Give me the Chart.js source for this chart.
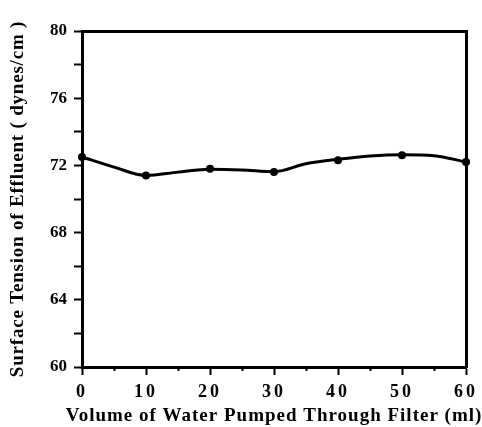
<!DOCTYPE html>
<html>
<head>
<meta charset="utf-8">
<script src="https://cdn.jsdelivr.net/npm/chart.js@4"></script>
<style>
    html, body { margin: 0; padding: 0; background: #fff; }
    #wrap { width: 482px; height: 427px; }
</style>
</head>
<body>
<div id="wrap"><canvas id="tensionChart"></canvas></div>
<script>
// measured points
const volumes = [0, 10, 20, 30, 40, 50, 60];
const tension = [72.5, 71.4, 71.8, 71.6, 72.3, 72.6, 72.2];
// hand-drawn trend line, read every 5 ml
const curveVolumes = [0, 5, 10, 15, 20, 25, 30, 35, 40, 45, 50, 55, 60];
const curveTension = [72.5, 71.9, 71.4, 71.6, 71.77, 71.73, 71.63, 72.1, 72.36, 72.56, 72.64, 72.58, 72.2];
const xTicks = [0, 10, 20, 30, 40, 50, 60];
const yTicks = [60, 64, 68, 72, 76, 80];

const serif = 'Liberation Serif';

// Chart.js has no letter spacing option, so wrap the text drawing of each scale.
// The x title is also let out past the axis ends, since Chart.js squeezes it to the axis width.
const spacing = {
    id: 'spacing',
    afterLayout(chart) {
        const gaps = { x: { drawTitle: '1px', drawLabels: '3px' }, y: { drawTitle: '0.8px', drawLabels: '0px' } };
        for (const id of ['x', 'y']) {
            const scale = chart.scales[id];
            if (scale._spaced) continue;
            scale._spaced = true;
            for (const name of ['drawTitle', 'drawLabels']) {
                const draw = scale[name];
                scale[name] = function (...args) {
                    const prev = this.ctx.letterSpacing;
                    const { left, right } = this;
                    this.ctx.letterSpacing = gaps[id][name];
                    if (id === 'x' && name === 'drawTitle') {
                        this.left -= 60;
                        this.right += 60;
                    }
                    draw.apply(this, args);
                    this.left = left;
                    this.right = right;
                    this.ctx.letterSpacing = prev;
                };
            }
        }
    }
};

const frameAxis = (position) => ({
    position,
    display: true,
    min: position === 'top' ? 0 : 60,
    max: position === 'top' ? 60 : 80,
    ticks: { display: false },
    grid: { drawOnChartArea: false, drawTicks: false },
    border: { color: '#000', width: 3 },
    afterFit(s) {
        if (position === 'top') s.height = 0; else s.width = 0;
    }
});

new Chart(document.getElementById('tensionChart'), {
    type: 'line',
    data: {
        datasets: [{
            label: 'Surface tension',
            data: volumes.map((v, i) => ({ x: v, y: tension[i] })),
            showLine: false,
            pointRadius: 4,
            pointBackgroundColor: '#000',
            pointBorderColor: '#000',
            pointBorderWidth: 0,
            clip: false
        }, {
            label: 'Trend',
            data: curveVolumes.map((v, i) => ({ x: v, y: curveTension[i] })),
            borderColor: '#000',
            borderWidth: 3,
            pointRadius: 0,
            cubicInterpolationMode: 'monotone',
            clip: false
        }]
    },
    options: {
        responsive: true,
        maintainAspectRatio: false,
        animation: false,
        layout: { padding: { top: 31, right: 16, left: 0, bottom: 0 } },
        plugins: {
            legend: { display: false },
            tooltip: { enabled: false }
        },
        scales: {
            x: {
                type: 'linear',
                min: 0,
                max: 60,
                ticks: {
                    stepSize: 5,
                    autoSkip: false,
                    maxRotation: 0,
                    padding: 7,
                    color: '#000',
                    font: { family: serif, size: 18, weight: 'bold' },
                    callback: v => xTicks.includes(v) ? String(v) : ''
                },
                grid: {
                    drawOnChartArea: false,
                    tickLength: 8,
                    tickWidth: 2,
                    tickColor: '#000',
                    tickBorderDash: c => c.tick && xTicks.includes(c.tick.value) ? [] : [2, 20]
                },
                border: { color: '#000', width: 3 },
                title: {
                    display: true,
                    text: 'Volume of Water Pumped Through Filter (ml)',
                    color: '#000',
                    font: { family: serif, size: 19, weight: 'bold' },
                    padding: { top: 0, bottom: 0 }
                },
                afterFit(s) { s.height = 60; }
            },
            y: {
                min: 60,
                max: 80,
                ticks: {
                    stepSize: 2,
                    autoSkip: false,
                    padding: 7,
                    color: '#000',
                    font: { family: serif, size: 17, weight: 'bold' },
                    callback: v => yTicks.includes(v) ? String(v) : ''
                },
                grid: {
                    drawOnChartArea: false,
                    tickLength: 8,
                    tickWidth: 2,
                    tickColor: '#000'
                },
                border: { color: '#000', width: 3 },
                title: {
                    display: true,
                    text: 'Surface Tension of Effluent ( dynes/cm )',
                    color: '#000',
                    font: { family: serif, size: 19, weight: 'bold' },
                    padding: { top: 7, bottom: 0 }
                },
                afterFit(s) { s.width = 82; }
            },
            x2: frameAxis('top'),
            y2: frameAxis('right')
        }
    },
    plugins: [spacing]
});
</script>
</body>
</html>
